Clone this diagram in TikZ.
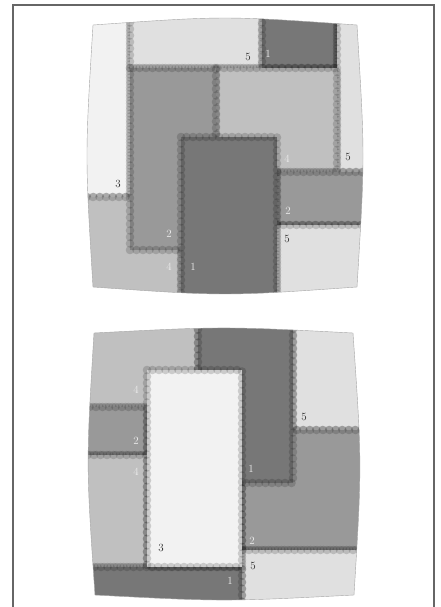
\documentclass[tikz,border=0pt]{standalone}
\usetikzlibrary{decorations.markings}
\definecolor{cA}{HTML}{777777}
\definecolor{cB}{HTML}{999999}
\definecolor{cC}{HTML}{F2F2F2}
\definecolor{cD}{HTML}{C0C0C0}
\definecolor{cE}{HTML}{E0E0E0}
\tikzset{
  beads/.style={postaction={decorate, decoration={markings,
     mark=between positions 0 and 1 step 6.5pt with {\fill[black, fill opacity=0.16] (0,0) circle (4.3pt);}}}},
  lbl/.style={font=\fontsize{11}{11}\selectfont, inner sep=0pt},
  lw/.style={lbl, text=white!93!black},
  ld/.style={lbl, text=black!85},
  frame/.style={draw=black!60, line width=1.3pt},
  rim/.style={draw=black!35, line width=0.4pt},
}
\newcommand\rg[5]{\path[fill=#5, beads] (#1,#2) rectangle (#3,#4);}
\begin{document}
\begin{tikzpicture}[x=1pt, y=-1pt]
\useasboundingbox (0,0) rectangle (440,607);
\fill[white] (0,0) rectangle (440,607);
\draw[frame] (13,607) -- (13,5) -- (434,5) -- (434,607);

% ---------- top pillow ----------
\def\pillowtop{(93,25) .. controls (225,15.7) .. (357,25) .. controls (365,156) .. (357,287) .. controls (225,296.3) .. (93,287) .. controls (85,156) .. (93,25) -- cycle}
\begin{scope}
\clip \pillowtop;
\rg{60}{-10}{130}{197}{cC}
\rg{130}{-10}{262}{68}{cE}
\rg{262}{-10}{337}{68}{cA}
\rg{337}{-10}{390}{172}{cE}
\rg{60}{197}{181}{320}{cD}
\rg{216}{68}{337}{172}{cD}
\rg{130}{68}{216}{250}{cB}
\rg{277}{172}{390}{225}{cB}
\rg{277}{225}{390}{320}{cE}
\rg{181}{137}{277}{320}{cA}
\end{scope}
\draw[rim] \pillowtop;
\node[ld] (a1) at (248,57) {5};
\node[lw] (a2) at (268,54) {1};
\node[lw] (a3) at (287,159) {4};
\node[ld] (a4) at (348,157) {5};
\node[ld] (a5) at (118,184) {3};
\node[lw] (a6) at (288,211) {2};
\node[lw] (a7) at (169,234) {2};
\node[ld] (a8) at (287,239) {5};
\node[lw] (a9) at (169,267) {4};
\node[lw] (a10) at (193,267) {1};

% ---------- bottom pillow ----------
\def\pillowbot{(94,333) .. controls (224,326.3) .. (353,333) .. controls (362,464) .. (354,595) .. controls (224,601.7) .. (95,595) .. controls (86,464) .. (94,333) -- cycle}
\begin{scope}
\clip \pillowbot;
\rg{60}{310}{198}{407}{cD}
\rg{293}{310}{390}{430}{cE}
\rg{242}{430}{390}{550}{cB}
\rg{198}{310}{293}{483}{cA}
\rg{242}{550}{390}{620}{cE}
\rg{60}{407}{147}{455}{cB}
\rg{60}{455}{147}{567}{cD}
\rg{60}{567}{242}{620}{cA}
\rg{147}{370}{242}{567}{cC}
\end{scope}
\draw[rim] \pillowbot;
\node[lw] (b1) at (136,390) {4};
\node[ld] (b2) at (304,417) {5};
\node[lw] (b3) at (136,441) {2};
\node[lw] (b4) at (251,469) {1};
\node[lw] (b5) at (136,472) {4};
\node[lw] (b6) at (252,541) {2};
\node[ld] (b7) at (161,548) {3};
\node[ld] (b8) at (253,566) {5};
\node[lw] (b9) at (230,581) {1};
\end{tikzpicture}
\end{document}
